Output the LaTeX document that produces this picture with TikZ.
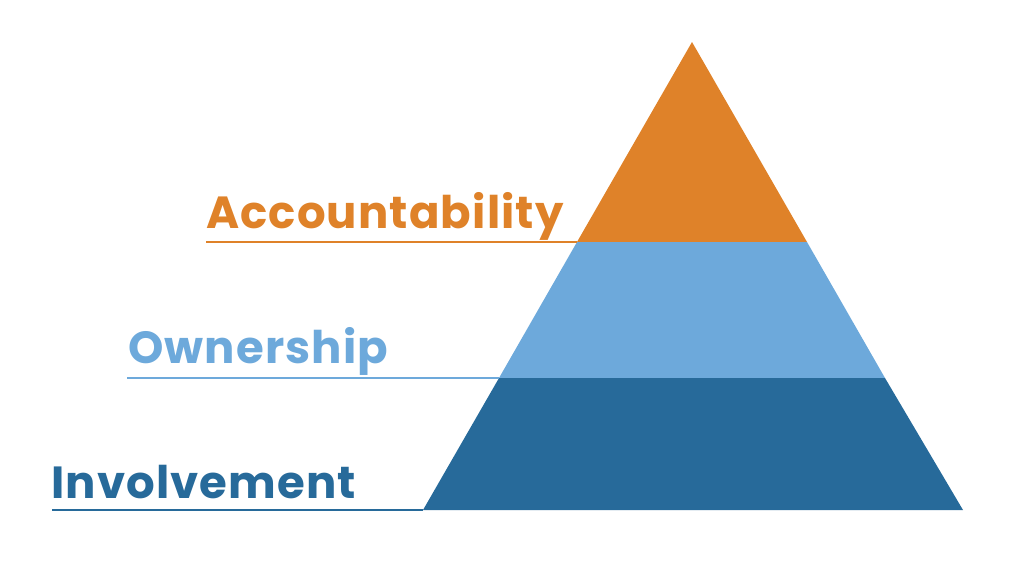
\documentclass[tikz,border=0pt]{standalone}
\usepackage{fontspec}
\setmainfont{Poppins}[BoldFont={Poppins Bold}, LetterSpace=2.5]
\definecolor{acc}{HTML}{DF8229}
\definecolor{own}{HTML}{6DA9DB}
\definecolor{inv}{HTML}{276A9A}
\tikzset{
  lbl/.style={anchor=base west, inner sep=0pt, font=\fontsize{45}{50}\selectfont\bfseries},
  rule/.style={line width=2pt}
}
\begin{document}
\begin{tikzpicture}[x=1pt,y=-1pt]
\useasboundingbox (0,0) rectangle (1024,566);
\coordinate (apex) at (692,42);
\coordinate (aL) at (577,242);
\coordinate (aR) at (807,242);
\coordinate (oL) at (499,378);
\coordinate (oR) at (885,378);
\coordinate (iL) at (423,510);
\coordinate (iR) at (963,510);
\fill[acc] (apex) -- (aR) -- (aL) -- cycle;
\fill[own] (aL) -- (aR) -- (oR) -- (oL) -- cycle;
\fill[inv] (oL) -- (oR) -- (iR) -- (iL) -- cycle;
\coordinate (aS) at (206,242);
\coordinate (oS) at (127,378);
\coordinate (iS) at (52,510);
\draw[rule, acc] (aS) -- (aL);
\draw[rule, own] (oS) -- (oL);
\draw[rule, inv] (iS) -- (iL);
\node[lbl, text=acc] (ta) at (206,228) {Accountability};
\node[lbl, text=own] (to) at (128,363) {Ownership};
\node[lbl, text=inv] (ti) at (51,498) {Involvement};
\end{tikzpicture}
\end{document}
